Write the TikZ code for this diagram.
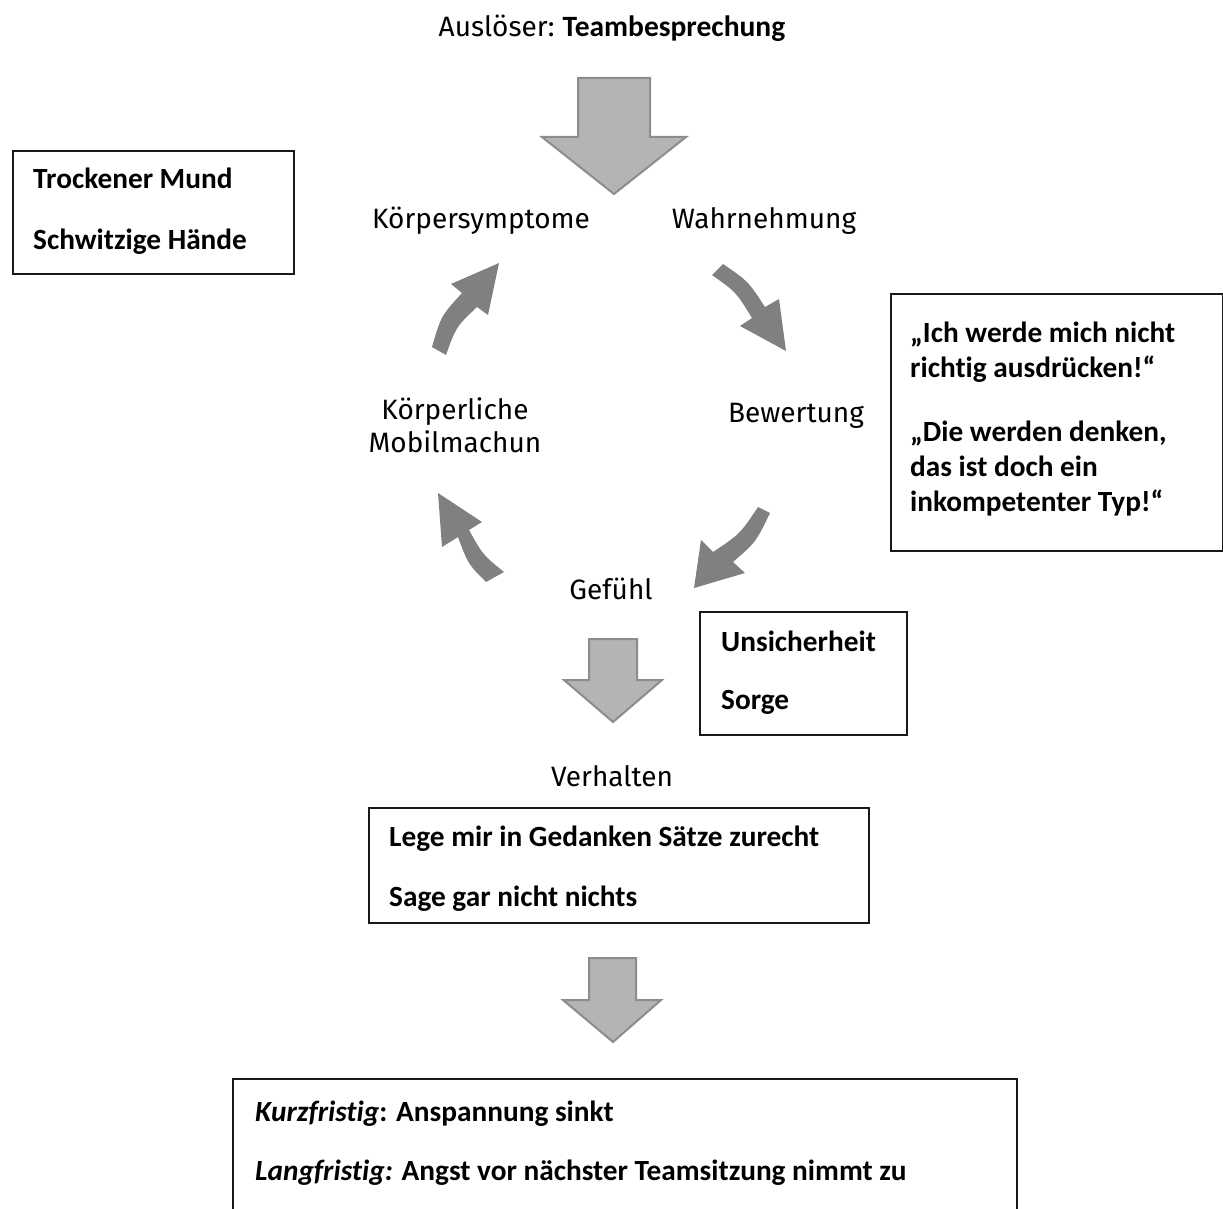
\documentclass[tikz,border=0pt]{standalone}
\usepackage{fontspec}
\setmainfont{Fira Sans}
\newfontfamily\calfont[Ligatures=NoCommon]{Carlito}
\definecolor{curvgray}{HTML}{808080}
\definecolor{blkfill}{HTML}{B4B4B4}
\definecolor{blkline}{HTML}{8C8C8C}
\begin{document}
\begin{tikzpicture}[x=1pt,y=-1pt,
  lbl/.style={font=\fontsize{28}{32}\selectfont, inner sep=0pt, anchor=base},
  btxt/.style={font=\calfont\bfseries\fontsize{29.3}{34}\selectfont, inner sep=0pt, anchor=base west},
  boxframe/.style={draw=black!90, line width=1.8pt, inner sep=0pt, anchor=north west},
  blockarrow/.style={fill=blkfill, draw=blkline, line width=2pt, line join=miter},
  curvarrow/.style={fill=curvgray, draw=none}]
\useasboundingbox (0,0) rectangle (1223,1209);

% ---- labels of the cycle
\node[lbl] (ausl) at (612,37) {Auslöser:\hspace{8pt}{\calfont\bfseries\fontsize{29.5}{32}\selectfont Teambesprechung}};
\node[lbl] (koerp) at (481,229) {Körpersymptome};
\node[lbl] (wahr) at (764,229) {Wahrnehmung};
\node[lbl] (koerl1) at (455,419) {Körperliche};
\node[lbl] (koerl2) at (455,452) {Mobilmachun};
\node[lbl] (bew) at (796,422) {Bewertung};
\node[lbl] (gef) at (611,599) {Gefühl};
\node[lbl] (verh) at (612,786) {Verhalten};

% ---- block arrows
\draw[blockarrow] (578,78) -- (650,78) -- (650,137) -- (686,137) -- (614,194) -- (542,137) -- (578,137) -- cycle;
\draw[blockarrow] (589,639) -- (637,639) -- (637,680) -- (662,680) -- (613,722) -- (564,680) -- (589,680) -- cycle;
\draw[blockarrow] (589,958) -- (636,958) -- (636,1000) -- (661,1000) -- (613,1042) -- (563,1000) -- (589,1000) -- cycle;

% ---- curved arrows
% top-left (up)
\fill[curvarrow] (432,347) .. controls (441,316) .. (462,293) -- (451,284) -- (499,263) -- (488,315) -- (477,307) .. controls (456,327) .. (446,355) -- cycle;
% top-right (down)
\fill[curvarrow] (723,264) .. controls (748,281) .. (765,307) -- (779,299) -- (786,351) -- (740,326) -- (752,318) .. controls (736,292) .. (712,275) -- cycle;
% bottom-right (down-left)
\fill[curvarrow] (770,513) .. controls (756,542) .. (733,562) -- (745,573) -- (694,588) -- (701,540) -- (713,552) .. controls (740,534) .. (758,507) -- cycle;
% bottom-left (up-left)
\fill[curvarrow] (486,582) .. controls (468,564) .. (458,537) -- (442,547) -- (438,493) -- (482,522) -- (469,530) .. controls (483,555) .. (504,572) -- cycle;

% ---- boxes
\node[boxframe, minimum width=281pt, minimum height=123pt] (symbox) at (12,150) {};
\node[btxt] (sym1) at (33,189) {Trockener Mund};
\node[btxt] (sym2) at (33,249) {Schwitzige Hände};

\node[boxframe, minimum width=332pt, minimum height=257pt] (bewbox) at (890,293) {};
\node[btxt] (bw1) at (910,342) {„Ich werde mich nicht};
\node[btxt] (bw2) at (910,377) {richtig ausdrücken!“};
\node[btxt] (bw3) at (910,441) {„Die werden denken,};
\node[btxt] (bw4) at (910,476) {das ist doch ein};
\node[btxt] (bw5) at (910,511) {inkompetenter Typ!“};

\node[boxframe, minimum width=207pt, minimum height=123pt] (gefbox) at (699,611) {};
\node[btxt] (gf1) at (721,651) {Unsicherheit};
\node[btxt] (gf2) at (721,709) {Sorge};

\node[boxframe, minimum width=500pt, minimum height=115pt] (verhbox) at (368,807) {};
\node[btxt] (vh1) at (389,846) {Lege mir in Gedanken Sätze zurecht};
\node[btxt] (vh2) at (389,906) {Sage gar nicht nichts};

\coordinate (kbl) at (233,1215);
\coordinate (ktl) at (233,1079);
\coordinate (ktr) at (1017,1079);
\coordinate (kbr) at (1017,1215);
\draw[draw=black!90, line width=1.8pt] (kbl) -- (ktl) -- (ktr) -- (kbr);
\node[btxt] (kf1) at (255,1121) {\textit{Kurzfristig}: Anspannung sinkt};
\node[btxt] (kf2) at (255,1180) {\textit{Langfristig:} Angst vor nächster Teamsitzung nimmt zu};
\end{tikzpicture}
\end{document}
